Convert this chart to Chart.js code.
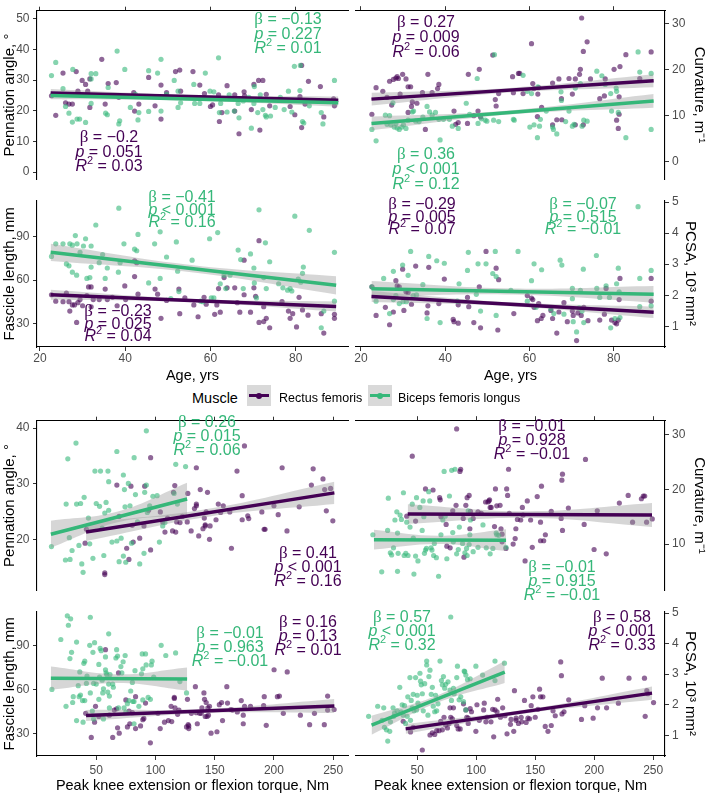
<!DOCTYPE html>
<html>
<head>
<meta charset="utf-8">
<script src="https://cdn.jsdelivr.net/npm/chart.js@4.4.0/dist/chart.umd.min.js"></script>
<style>
  html, body { margin: 0; padding: 0; background: #fff; }
  #page { position: relative; width: 709px; height: 795px; overflow: hidden; font-family: "Liberation Sans", Arial, sans-serif; }
  #page canvas { position: absolute; }
  .lg { position: absolute; white-space: nowrap; line-height: 1; color: #000; }
  .key { position: absolute; width: 24px; height: 21px; background: #d9d9d9; }
  .key .ln { position: absolute; left: 2px; right: 2px; top: 9px; height: 3px; }
  .key .dt { position: absolute; left: 9px; top: 7.5px; width: 6px; height: 6px; border-radius: 50%; }
</style>
</head>
<body>
<div id="page">
  <div class="lg" style="left:192px; top:391px; font-size:14.5px;">Muscle</div>
  <div class="key" style="left:247px; top:385px;"><div class="ln" style="background:#440154"></div><div class="dt" style="background:#440154"></div></div>
  <div class="lg" style="left:279px; top:392px; font-size:12.5px;">Rectus femoris</div>
  <div class="key" style="left:368px; top:385px;"><div class="ln" style="background:#35b779"></div><div class="dt" style="background:#35b779"></div></div>
  <div class="lg" style="left:398px; top:392px; font-size:12.5px;">Biceps femoris longus</div>
</div>
<script>
// ---- tick labels ----
const ageTicks = [20, 40, 60, 80];
const torqueTicks = [50, 100, 150, 200, 250];
const penAgeTicks = [0, 10, 20, 30, 40, 50];
const curvAgeTicks = [0, 10, 20, 30];
const fascTicks = [30, 60, 90];
const pcsaTicks = [1, 2, 3, 4, 5];
const penTorqueTicks = [20, 30, 40];
const curvTorqueTicks = [10, 20, 30];

// ---- age panels: points [age, value] ----
const penAgeRF = [[22.7,24.9],[23.7,18.5],[25.4,32.3],[26,22.6],[26.8,22.2],[27.6,22.2],[28.5,32.8],[28.9,26.4],[29.9,29.9],[30.7,28.6],[31.2,26.4],[31.7,30.4],[31.7,21.1],[34.5,36.8],[35.3,22.2],[36,28.9],[37.9,29.2],[38.5,24.4],[42,25.9],[42.2,19.9],[43.2,22.2],[45.5,30.9],[47,21.6],[48.4,28.4],[48.4,17.3],[49.7,25.9],[51.8,32.8],[52.8,33.3],[53,26.4],[55.9,32.8],[57.5,28.4],[58.6,25.6],[60,21.4],[60.5,21.9],[61.9,25.2],[62.1,16.5],[62.7,19.4],[63.9,28.2],[65.7,25.2],[65.7,19.9],[66.7,12.5],[67.9,26.2],[68,24.9],[69.6,20.4],[70.2,28.6],[71.3,29.9],[71.6,13.7],[72.3,29.9],[73.1,25.4],[73.9,21.6],[78.7,21.4],[79.8,18.7],[81,24.6],[81.4,34.8],[81.4,14.5],[82.2,22.2],[83,29.6],[85.8,27.9],[86.6,18],[88.9,23.9],[89.1,21.6]];
const penAgeBF = [[22.7,31.5],[23.7,35.8],[25.4,27.2],[26,21.4],[26.8,19.2],[27.7,33.5],[27.6,16.3],[28.7,17.3],[29.3,17.3],[30.7,16.2],[32,32.1],[33.1,32.1],[32,22.4],[32,30.4],[35.4,19.2],[35.8,18.7],[36,27.6],[38.1,39.5],[38.5,15.7],[38.7,16.7],[39.9,33.5],[41.2,21.1],[42.4,25.4],[43.2,19.4],[43,17],[45.5,33.1],[45.5,19.8],[47.6,32.3],[48.4,36.8],[48.4,19.9],[49.7,25.4],[51.5,29.9],[52.4,26.4],[52.4,21.1],[53,22.6],[56.1,28.6],[56.3,22.4],[57.5,22.4],[58.8,32.3],[59.9,26.4],[60.8,26.2],[61.9,37.3],[62.1,19.4],[62.4,22.4],[63.9,19.6],[64.4,25.2],[65.6,19.9],[66.5,22.4],[66.7,17.7],[67.7,23.2],[69,24.4],[69.6,14.3],[70.2,22.4],[70.3,27.9],[71.1,19.4],[71.7,25.2],[72.1,23.6],[72.3,20.4],[72.9,18.5],[73.1,18],[74.1,18.3],[75.2,21.1],[76.4,24.4],[77.3,20.4],[78.3,26.4],[79.1,19.6],[79.7,34.5],[80.2,23.4],[81,26.6],[81.1,34.8],[81.6,16.5],[81.9,16],[83.2,21.6],[86,19.4],[86.4,15.7],[89.1,29.9]];
const curvAgeRF = [[22.6,10.3],[23.6,16.1],[25.2,15.3],[26.2,14],[26.8,17.5],[27.3,12.3],[27.7,17.9],[28.3,18.2],[28.6,18.5],[28.9,18.1],[29.9,19],[29.3,14.7],[30.7,18],[31.2,16.3],[31.2,10.7],[31.8,16.3],[32,12],[32.2,13],[33.3,12.7],[34.6,15],[35.3,7],[35.9,19],[36.9,15],[38.2,15.9],[38.5,16.8],[42.1,11],[42.5,8.1],[43.1,8.5],[45.3,8.3],[45.5,19],[46.8,10],[47.8,11],[48.1,20.1],[48.4,9.7],[51.3,23.2],[51.9,13.5],[52.1,12.1],[52.7,14.8],[56,18.5],[56.2,15],[57.4,19.2],[57.7,19.2],[58.5,14.8],[60.5,25.7],[60.8,17],[61.1,15.9],[62.2,16.1],[62,14.7],[62.9,11.8],[61.9,9.8],[65.5,8],[65.5,17.1],[66.5,9.1],[67,18],[67.7,9.1],[67.6,13.7],[69.4,18.1],[70.2,14.7],[70.9,18],[70.9,8],[71.9,19],[72.1,20.1],[72.4,31.3],[72.8,24],[72.8,8],[73.7,26.1],[74.5,18],[76.7,13.7],[77.8,14.3],[78,18],[80.1,20.1],[80.7,9],[81.1,7.2],[81.3,14.1],[81.5,20.7],[81.3,10.3],[82.9,23.3],[86.2,18.1],[88.9,23.9]];
const curvAgeBF = [[22.6,7],[23.6,4.5],[25.8,10.1],[26.2,8.1],[26.8,10],[27.1,8],[27.6,12.8],[27.9,7.5],[28.3,8.3],[28.6,7.3],[29.1,7],[29.7,7.5],[30.1,8],[30.7,7.2],[31.2,9],[32.2,10.8],[32.5,11],[33,8.8],[33.8,8.7],[34.7,9.7],[35.7,12],[36.3,10.8],[36.9,10.1],[37.7,10.7],[38.5,9.2],[38.8,4.7],[39.6,9.2],[41,9.2],[41.7,7.7],[43.1,7.2],[45,12.7],[45.8,10.3],[47.6,18.1],[47.8,8.3],[48.6,9.3],[49.5,9],[49.9,8.8],[51.5,9],[51.7,23.3],[52.7,8.7],[56.2,9.2],[56.4,9],[58.5,18.8],[59.5,15.3],[60.1,7.5],[60.5,14.8],[61.1,8],[61.9,5.2],[62,16.3],[62.4,7.7],[62.6,9.2],[64,11],[65.5,7.5],[65.7,7],[66.5,6],[67.5,15.2],[67.6,13.3],[68.6,8.7],[69.4,11],[70.2,7.7],[70.6,8.1],[70.9,16],[72.1,17],[72.5,7.7],[72.9,9],[73.7,8.8],[76,19.7],[77.2,18.7],[78,16.8],[79.3,14.8],[79.5,11],[80.6,16],[80.7,15.3],[81.1,10.7],[82.9,5.2],[85.8,23.9],[86.2,19.5],[88.9,19.2],[88.9,7]];
const fascAgeRF = [[22.7,49.8],[23.7,45.4],[25.4,45],[26.2,50.9],[26.8,45],[27,38.5],[27.6,42.8],[28.1,42.8],[28.6,30.7],[28.9,44.3],[29.4,46.5],[30,42.2],[31,49.3],[31.4,55.2],[32,55.2],[32,41.5],[32.5,46.5],[33.9,46.5],[35.3,53.7],[35.8,46.5],[37,48],[38.1,42.2],[39.9,55.9],[40.1,46.5],[42.2,73.3],[42.7,72],[42.2,62.4],[43,50.2],[47,53.7],[47.6,50.2],[48.4,33.5],[49.7,45.9],[52.6,53.7],[52.8,36.7],[54,47.6],[56.1,42.8],[57.1,34.6],[58.5,48],[59,43.3],[61,36.3],[61.5,42.8],[61.9,54.1],[62.3,37.8],[63.2,61.7],[63.9,54.6],[65.7,54.6],[66.3,44.3],[66.9,37.8],[67.9,73.7],[67.9,49.8],[69.4,37.8],[70.2,54.6],[70.6,48.7],[71.4,87.2],[71.4,30.7],[72.5,31.3],[73.1,33.5],[72.5,41.5],[73.9,27],[76.8,45],[78.3,38.5],[78.7,33.5],[79.3,36.7],[80.2,27.6],[80.8,48],[81.6,39.3],[82.9,35.7],[86,36.7],[86.6,23.3],[89.1,36.3],[89.1,33.5]];
const fascAgeBF = [[22.7,76.3],[23.7,85],[25.4,85],[26.2,71.1],[26.8,69.8],[27,85],[27.6,84.1],[27.6,65.4],[28.3,90.7],[28.6,63.3],[28.7,85],[29.4,79.1],[30.2,83.5],[30.7,88.5],[31,61.1],[32,83.5],[32,68.9],[31.7,61.7],[33.1,98],[33.9,72],[34.7,77.6],[35.3,61.1],[35.8,68.3],[38.4,65.4],[38.5,109.6],[38.8,72],[39.7,85],[42.2,81.3],[42.7,80.2],[43,91.5],[45.5,58],[46.9,85],[48.2,93.3],[48.2,61.1],[49.7,75.9],[50.7,47.2],[52,86.3],[52.3,66.1],[52.6,52],[55.7,73.7],[57.7,45.4],[58.2,45],[59.8,88.5],[60.2,47.6],[60.8,47.6],[61.7,92.8],[62.3,57.4],[63.2,63.3],[63.6,54.1],[64.6,63.3],[66.5,80.7],[67.1,74.1],[67.7,54.1],[69.4,78],[70.2,68.3],[70.3,58],[70.8,47.6],[71.4,108.5],[72.5,61.7],[72.9,85.7],[73.1,54.1],[73.9,72.6],[76,57.4],[77,54.6],[78.1,53],[78.7,54.1],[79.1,52.4],[79.8,104.1],[80.6,60.7],[81.2,58.5],[81.6,64.6],[81.8,68.9],[83.2,94.3],[86,27],[86.6,38.5],[89.1,79.1],[89.1,45.4]];
const pcsaAgeRF = [[22.6,2.27],[23.6,1.35],[25.8,1.61],[26.8,1.05],[27.7,1.46],[28.3,2.47],[28.6,2.3],[29.1,2.27],[29.9,2.84],[30.2,1.51],[30.7,2.11],[31.2,2.09],[32,1.71],[33,2.94],[36.1,2.9],[35.7,1.43],[35.9,1.66],[38.5,1.73],[39.8,2.52],[41.9,1.22],[42.1,1.15],[43.1,1.1],[43.1,1.69],[45.3,1.93],[45.6,1.63],[46.8,1.12],[48.1,2.27],[48.4,0.95],[49.7,3.41],[52.1,2.87],[52.5,0.88],[52.7,2.5],[56.3,1.41],[59.5,1.99],[60.5,1.91],[60.8,1.86],[61.1,1.61],[61.9,1.18],[62.2,1.73],[62.8,1.25],[63.2,1.35],[65.1,1.51],[65.5,1.25],[66.5,0.78],[67,1.46],[68.2,1.76],[69,1.15],[70.2,1.49],[70.4,1.35],[71.2,0.54],[71.5,1.43],[72.3,1.35],[72.9,1.61],[73.9,1.18],[76.7,1.2],[77.8,1.39],[78.2,2.22],[79.5,1.2],[80.3,1.12],[80.7,1.08],[81.1,1.2],[81.3,1.86],[81.5,2.54],[88.9,2.54],[88.9,1.81]];
const pcsaAgeBF = [[22.6,2.27],[23.6,1.81],[25.4,2.54],[26.8,1.41],[27.7,1.86],[27.7,2.77],[28.3,1.99],[29.1,1.73],[29.9,2.97],[30,1.79],[30.8,1.79],[31.2,2.64],[31.8,3.41],[32.4,1.99],[33.2,2.01],[34.7,2.34],[35.7,1.25],[36.1,3.25],[38,3.11],[38.8,1.12],[39.8,3.03],[42.9,1.81],[43.3,2.37],[45.3,2.8],[45.5,3.38],[47.4,2.03],[47.8,3.01],[48.4,1.49],[49.7,3.01],[51.3,2.7],[51.9,3.41],[52.1,2.6],[52.1,1.35],[55.6,2.16],[57.3,3.41],[59.5,1.81],[60.5,2.47],[61.1,3.01],[61.6,1.61],[62.9,2.82],[65.1,1.56],[65.8,1.41],[67.3,3.13],[67.7,2.97],[68.2,1.39],[70.2,2.22],[70.2,1.89],[70.4,1.15],[71.2,0.82],[71.8,1.59],[72.1,2.16],[72.5,1.49],[72.8,2.84],[72.9,1.12],[75.9,3.28],[76,2.22],[76.7,1.93],[78.2,2.3],[79,1.93],[79.3,0.95],[80.3,1.25],[80.7,2.37],[81.1,2.87],[81.3,2.11],[81.5,1.28],[85.8,4.85],[86.2,2.54],[86.2,1.63],[88.9,2.8],[88.9,1.66]];

// ---- torque panels: points [torque, value] ----
const penTorqueRF = [[40.6,19.4],[41.7,21.9],[57.2,14.1],[57.2,13.8],[67.4,29.8],[69.3,24.2],[75.7,18.5],[77.6,16.5],[79.3,29.6],[80.4,22.6],[81.2,19.6],[86.7,20.3],[90.3,22.5],[90.9,29.6],[94.2,25.3],[95.9,34.7],[95.9,18.2],[104.1,25],[106.1,23.2],[108,21.4],[110.2,23.9],[114.4,21.6],[115.2,28.5],[116.3,29.7],[117.1,21.4],[117.9,23.2],[120.7,23.1],[122.7,24.2],[126.8,23.2],[127.3,28.3],[130.1,21.6],[132.9,25.6],[134.5,32.9],[134.5,26.4],[134.5,26.1],[136.5,20.7],[137.8,29],[140.1,22],[141.2,23.9],[142,22.7],[142,22.5],[142.8,25],[143.9,28.5],[145.6,20.1],[146.1,22.5],[151.1,23.6],[153,26.4],[155,24.9],[157.2,26.1],[162.7,25],[164.1,18.5],[168.8,32.3],[173.2,27.9],[173.2,23.6],[175.1,36.8],[177.9,24.3],[178.7,23.8],[189.8,25],[191.7,21.9],[192.5,21.9],[200,26.1],[203.6,24.5],[206.9,32.9],[211,21.6],[221.3,25.9],[231.6,29.8],[233.1,32.7],[241.4,30.9],[242.8,29],[244.2,25.2],[247.8,29.2],[249.7,23.4]];
const penTorqueBF = [[12.2,18.8],[24,16.4],[24.6,26.4],[26,34.5],[27.3,20.4],[27.9,16.5],[29.6,18.1],[32.9,37.3],[33.4,26.4],[35.4,19],[36.8,26.5],[37.8,15.7],[38.9,14.2],[39.8,27.6],[43.4,23.9],[44.5,19.3],[47.2,16.7],[48.9,32.3],[50,26.5],[52.8,26],[53.6,32.3],[55,22.1],[56.4,17.2],[57.2,24.8],[58.3,26.7],[59.9,32.3],[60.5,30.4],[60.5,25.3],[63.3,19.6],[67.4,35.8],[67.4,19.8],[69.3,16.1],[71,20.3],[72.9,31.6],[72.9,17.1],[73.8,29],[74.3,25.9],[74.9,16],[77.1,30.1],[78.5,26.1],[79.8,19.4],[82,34.7],[83.1,28.1],[84.8,23.2],[86.7,15.7],[90.3,17.6],[90.9,28.5],[92.3,39.5],[92.3,29.8],[93.1,24.9],[95.1,26.1],[97.8,27.8],[101.4,27.9],[103.3,19.6],[106.1,22.5],[108,23.1],[115.7,28.3],[117.1,33.5],[118.5,26.4],[125.4,33.1]];
const curvTorqueRF = [[45.8,26.1],[41.1,15.1],[48.6,14.2],[57,20.1],[63.4,19.9],[69,18.5],[69.5,18.1],[70.1,15],[74.5,13.6],[75.1,9.6],[77.9,9.3],[80.1,16.1],[83.4,31.1],[86.2,23.3],[82.9,17.1],[86.8,23.7],[89,14.7],[89.6,7.6],[91.2,17.1],[92.3,18.5],[94,18.9],[94.6,12.8],[95.1,16],[97.4,14.7],[101.5,15.9],[104.3,15.6],[107.9,17.7],[109.9,17.7],[110.7,17.9],[111.3,18.1],[111.8,16.7],[112.7,16.7],[116.3,20.1],[115.5,13.2],[117.4,17],[120.2,17.1],[121,12.8],[121.9,11.8],[121.9,10.4],[125.2,9.2],[125.8,20.1],[126.6,18.9],[127.4,23.7],[128,15.6],[131.3,10],[133,11],[133.6,12.8],[134.9,14.5],[137.7,14.4],[139.1,16.7],[139.7,15.3],[141.4,6.9],[143.3,17.9],[146.1,14.4],[147.5,9.4],[151.7,18.7],[154.5,14],[154.5,10.6],[155.3,20.6],[157.2,10.6],[158.6,11.7],[163.6,16],[172,14.7],[172.6,21.7],[173.1,22.8],[173.1,12.5],[178.1,16.6],[191.5,13.6],[192.6,25.5],[199.9,9],[202.6,16.1],[210.2,8.2],[221.3,17.5],[228.8,18.9],[232.5,14],[240,18.3],[241.6,18.8],[242.8,18.8],[244.4,14],[249.2,14.6]];
const curvTorqueBF = [[12.4,11.7],[19.9,4.9],[24.9,12.5],[25.5,18.4],[27.2,8.4],[28.3,8],[29.9,9.3],[31.1,14.4],[32.7,15.9],[33.3,5],[33.3,12],[33.8,8.3],[35.5,15.3],[36.6,14.5],[38.3,19.4],[38.9,7.9],[40.3,8.3],[41.1,14],[42.2,7.9],[43.9,13.1],[45.8,17.3],[46.7,11.1],[47.2,4.5],[48.6,7.8],[49.4,18.5],[50.6,6.9],[52.2,16.7],[54.2,12.5],[55,17.9],[55.6,15],[56.1,8.3],[57,8.9],[57.8,9.2],[59.7,19.6],[60.6,17.9],[61.7,9.3],[62.5,8.9],[63.9,7.9],[64.5,10.1],[66.2,7.5],[68.1,4.1],[70.1,11.7],[71.7,14.4],[72.8,23.3],[73.7,15.1],[75.1,7.3],[77.3,18.8],[79.2,23.5],[80.1,12.1],[80.6,10.4],[82,23.7],[83.4,8.2],[84.8,9],[85.7,13.1],[88.4,10.1],[90.4,8.4],[91.8,9.2],[92.3,7.9],[93.2,16.1],[94,9.9],[94.6,11.7],[95.1,14.4],[97.4,8.6],[101.5,9.4],[105.7,13.5],[108.5,9.3],[111.8,8.2],[114.1,9.2],[116.9,12],[117.4,11.7],[119.1,11.6],[125.2,9.4]];
const fascTorqueRF = [[41.1,43.7],[45.8,27.1],[48.6,37.6],[49.4,48.5],[52.2,41.5],[57.8,87.4],[61.1,42.4],[63.9,27.1],[65.2,45.9],[67.2,46.8],[68,33.7],[68.8,71.4],[69.4,30],[75,52.9],[76.3,34.3],[77.7,45.2],[78.3,36.5],[80.5,44.1],[83.2,33.2],[83.2,55.1],[87.4,35],[89.3,39.3],[90.2,40.2],[91.6,50.7],[95.7,23.4],[102.1,43.7],[104,33.2],[107.6,37.6],[110.9,38.7],[113.2,48.5],[113.7,38],[115.9,54.6],[115.9,53.9],[116.5,47.4],[118.7,43],[119.8,45.9],[126.2,34.3],[127,53.3],[127.6,35.9],[128.1,33.2],[128.1,35],[130.3,43.7],[133.7,62],[134.5,44.1],[135.3,36.5],[137.3,43.7],[138.6,43.7],[139.2,47.4],[140.9,57.7],[141.4,53.3],[142,41.5],[142.8,51.1],[143.6,41.5],[144.2,47.4],[144.7,42.4],[145.6,48.5],[146.9,30],[151.9,31],[153.9,49.6],[155.8,51.1],[156.6,38.7],[160.2,62],[160.8,50.7],[163.6,46.3],[165,45.9],[169.1,44.6],[172.4,52.4],[174.1,42.4],[174.1,36.5],[175.2,48.5],[180.2,48.5],[191.3,48.9],[191.8,55.1],[193.5,35.4],[200.1,73.6],[202.9,55.1],[204.6,55.5],[207.9,43.7],[211.2,72.1],[222.3,42.4],[230.1,35.9],[234.2,43.7],[242.5,35.9],[245.3,55.5],[245.3,45.9],[250.8,46.3]];
const fascTorqueBF = [[12.6,60.1],[20.1,94.4],[24.5,48.5],[25.6,110.7],[26.5,104.2],[27.8,81.3],[28.4,108.6],[29.2,85.6],[30.6,55.1],[30.1,51.1],[33.4,92.6],[33.4,38.7],[34.8,62.7],[35.6,55.1],[36.1,72.1],[36.7,56.2],[38.4,52.4],[38.9,37.6],[39.5,78],[40.3,79.5],[40.3,52.4],[41.7,64.2],[42.2,69.3],[44.5,90.4],[45,109.7],[45,57.7],[46.7,45.2],[47.2,85.6],[47.8,64.2],[47.8,39.8],[48.6,92.2],[50,63.8],[52.2,77.3],[52.2,53.3],[52.8,68.6],[53.3,88.3],[54.2,86.7],[55,66.4],[55.5,57.7],[56.1,60.5],[56.1,39.8],[57.8,82.4],[57.8,73.6],[58.3,71.4],[58.9,70.3],[59.7,58.3],[60.5,98.3],[60.5,63.8],[61.1,55.5],[61.1,47.4],[61.6,70.3],[63.9,63.8],[64.4,61.6],[66.6,81.7],[67.2,87.4],[68,83],[68.8,47.4],[70.8,75.8],[71.6,71.4],[72.7,79.1],[73.5,47.4],[74.4,83.4],[75,44.6],[76.3,50.3],[77.7,52.4],[79.1,59],[80.5,64.9],[81,51.8],[81.9,51.8],[81.9,36.5],[82.7,73],[86,48.5],[88.2,70.8],[88.8,84.5],[89.3,74.3],[89.3,52.9],[91.6,84.5],[92.1,76.9],[93.8,54.6],[95.7,53.3],[96.5,76.9],[97.1,79.5],[98.5,68.6],[104.8,90.4],[108.7,83.4],[117,85.2],[120.6,65.5],[126.2,57.7]];
const pcsaTorqueRF = [[38.1,1.46],[44.3,1.11],[46.6,1.26],[54.3,0.52],[60.8,1.01],[62.8,1.08],[64.8,1.03],[66.5,1.15],[68.5,1.15],[69.9,1.46],[71.3,1.18],[72.7,1.59],[74.1,1.34],[75.6,1.24],[77,1.39],[77.8,1.9],[78.4,1.59],[79.8,1.54],[80.7,1.9],[83.5,1.32],[84.7,1.21],[86.4,1.21],[89.2,2.03],[91.2,1.83],[92,1.59],[93.2,1.56],[93.2,1.39],[94.9,1.87],[96,1.77],[99.7,1.13],[100.6,2],[102.6,1.49],[106.3,1.83],[106.8,2.05],[108.2,1.44],[109.1,1.59],[112.5,1.44],[113.9,1.85],[114.8,0.95],[115.9,1.83],[117.6,1.77],[118.2,2.18],[120.5,1.59],[122.4,1.9],[124.4,1.64],[126.1,1.05],[129,1.36],[129.5,1.52],[131.8,1.13],[132.4,2.46],[133.8,1.49],[133.8,1.56],[135.8,1.39],[138.1,1.59],[138.6,1.44],[140.9,2.14],[142.3,1.42],[143.8,1.56],[145.2,1.54],[146.6,1.97],[148,2.26],[150,1.59],[152.3,1.85],[153.7,2.51],[154.5,2.26],[156.5,2.26],[158.5,1.29],[160.8,1.13],[163.6,1.32],[165.1,1.8],[167,1.64],[171.6,3.4],[172.2,2.95],[172.7,1.7],[174.4,1.77],[178.4,2.16],[189.2,1.52],[192,1.97],[199.1,1.56],[202.8,1.9],[206.8,2.87],[210.5,1.9],[220.5,2.05],[229.5,2.87],[242.6,2.87],[243.2,1.62],[244.6,2.46],[245.5,2.36],[250.3,2.07]];
const pcsaTorqueBF = [[8.8,1.62],[16.5,1.95],[20.2,1.49],[21.6,1.9],[22.2,1.26],[23.9,1.18],[25,0.81],[26.7,1.13],[27.3,1.44],[29.5,1.9],[30.1,1.62],[30.7,1.73],[32.9,1.8],[35.2,2.57],[36.4,1.77],[37.2,2],[38.1,1.66],[39.2,1.97],[40.1,1.39],[41.5,1.62],[42,2.26],[43.8,2.89],[44.3,1.49],[44.9,2.14],[45.7,1.9],[46.6,2.34],[47.2,1.8],[48.6,2.89],[49.4,1.83],[50,2.31],[50.6,2.05],[52.3,3.03],[52.8,2.77],[53.4,2.65],[54.3,2.36],[55.1,1.8],[56.3,2.69],[58,3.43],[58,3.3],[59.1,1.66],[59.9,2.92],[60.8,3.13],[61.9,2.34],[62.8,2.57],[63.6,1.95],[64.8,1.77],[65.6,2.31],[66.5,1.8],[67.6,2.03],[69.3,3.43],[70.5,2.79],[71.3,2.65],[72.2,2.92],[73.3,2.54],[74.1,2.67],[76.1,2.75],[77.8,2.48],[78.4,4.87],[79,2.14],[80.7,2.54],[81.3,2.36],[83.5,2.89],[84.1,3.26],[85.5,2.16],[86.9,2.26],[89.2,2.1],[89.8,3.1],[90.3,3.08],[91.2,2.97],[91.2,1.83],[92.6,2.82],[94.9,2.85],[99.7,3.26],[105.4,2.97],[115.9,3.43],[115.9,2.79],[123.9,3.36]];

// ---- fitted lines [x, y] and confidence bands [x, lower, upper] ----
const penAgeFitRF = [[22.5,25.8],[90,23.4]];
const penAgeFitBF = [[22.5,25.0],[90,22.6]];
const penAgeBandRF = [[22.5,24.5,27.1],[56,24.1,25.1],[90,22.1,24.7]];
const penAgeBandBF = [[22.5,23.8,26.2],[56,23.3,24.3],[90,21.4,23.8]];
const curvAgeFitRF = [[22.5,13.6],[89.5,17.6]];
const curvAgeFitBF = [[22.5,8.3],[89.5,13.2]];
const curvAgeBandRF = [[22.5,12.2,15.0],[56,15.1,16.1],[89.5,16.2,19.0]];
const curvAgeBandBF = [[22.5,6.8,9.8],[56,10.3,11.2],[89.5,11.7,14.7]];
const fascAgeFitRF = [[22.5,49.8],[89.5,41.7]];
const fascAgeFitBF = [[22.5,79.1],[89.5,56.3]];
const fascAgeBandRF = [[22.5,46.3,53.3],[56,44.6,46.9],[89.5,38.2,45.2]];
const fascAgeBandBF = [[22.5,73.1,85.1],[56,65.2,70.2],[89.5,50.0,62.6]];
const pcsaAgeFitRF = [[22.5,1.96],[89.5,1.45]];
const pcsaAgeFitBF = [[22.5,2.21],[89.5,2.03]];
const pcsaAgeBandRF = [[22.5,1.78,2.14],[56,1.64,1.77],[89.5,1.27,1.63]];
const pcsaAgeBandBF = [[22.5,1.95,2.46],[56,2.02,2.22],[89.5,1.76,2.30]];

const penTorqueFitRF = [[41.4,21.4],[251,28.4]];
const penTorqueFitBF = [[11.7,21.0],[126.7,27.3]];
const penTorqueBandRF = [[41.4,19.8,23.0],[146,24.2,25.6],[251,26.4,30.4]];
const penTorqueBandBF = [[11.7,18.6,23.4],[69,23.2,25.1],[126.7,24.4,30.2]];
const curvTorqueFitRF = [[41.9,15.5],[249,15.3]];
const curvTorqueFitBF = [[13.3,10.8],[125.3,10.7]];
const curvTorqueBandRF = [[41.9,13.7,17.3],[145,14.8,16.0],[249,13.1,17.5]];
const curvTorqueBandBF = [[13.3,9.0,12.6],[69,10.0,11.5],[125.3,8.7,12.7]];
const fascTorqueFitRF = [[41.4,42.2],[251,48.7]];
const fascTorqueFitBF = [[11.7,67.8],[126.7,67.2]];
const fascTorqueBandRF = [[41.4,38.4,46.0],[146,43.9,46.9],[251,43.9,53.5]];
const fascTorqueBandBF = [[11.7,59.8,75.8],[69,64.5,70.5],[126.7,59.2,75.2]];
const pcsaTorqueFitRF = [[40.2,1.21],[249,2.38]];
const pcsaTorqueFitBF = [[11.3,1.33],[124.2,3.07]];
const pcsaTorqueBandRF = [[40.2,1.05,1.37],[145,1.73,1.86],[249,2.16,2.60]];
const pcsaTorqueBandBF = [[11.3,1.02,1.64],[68,2.08,2.32],[124.2,2.71,3.43]];

// ---- statistics: [beta, p operator, p, R2] ----
const penAgeStatRF = ['\u22120.2', '=', '0.051', '0.03'];
const penAgeStatBF = ['\u22120.13', '=', '0.227', '0.01'];
const curvAgeStatRF = ['0.27', '=', '0.009', '0.06'];
const curvAgeStatBF = ['0.36', '<', '0.001', '0.12'];
const fascAgeStatRF = ['\u22120.23', '=', '0.025', '0.04'];
const fascAgeStatBF = ['\u22120.41', '<', '0.001', '0.16'];
const pcsaAgeStatRF = ['\u22120.29', '=', '0.005', '0.07'];
const pcsaAgeStatBF = ['\u22120.07', '=', '0.515', '\u22120.01'];
const penTorqueStatRF = ['0.41', '<', '0.001', '0.16'];
const penTorqueStatBF = ['0.26', '=', '0.015', '0.06'];
const curvTorqueStatRF = ['\u22120.01', '=', '0.928', '\u22120.01'];
const curvTorqueStatBF = ['\u22120.01', '=', '0.915', '\u22120.01'];
const fascTorqueStatRF = ['0.16', '=', '0.13', '0.01'];
const fascTorqueStatBF = ['\u22120.01', '=', '0.963', '\u22120.01'];
const pcsaTorqueStatRF = ['0.58', '<', '0.001', '0.33'];
const pcsaTorqueStatBF = ['0.57', '<', '0.001', '0.32'];

// ---- styling ----
const FONT = '"Liberation Sans", Arial, sans-serif';
const RF_COL = '#440154', BF_COL = '#35b779';
const RF_PT = 'rgba(68,1,84,0.6)', BF_PT = 'rgba(53,183,121,0.6)';
const BAND = 'rgba(153,153,153,0.4)';
const page = document.getElementById('page');

function toXY(arr) { return arr.map(p => ({x: p[0], y: p[1]})); }

function fitSet(pts, col) {
    return {data: toXY(pts), showLine: true, borderColor: col, borderWidth: 3.5, pointRadius: 0, tension: 0, fill: false};
}
function bandSets(band) {
    return [
        {data: band.map(b => ({x: b[0], y: b[2]})), showLine: true, borderColor: 'rgba(0,0,0,0)', borderWidth: 0.01, pointRadius: 0, tension: 0.4, fill: '+1', backgroundColor: BAND},
        {data: band.map(b => ({x: b[0], y: b[1]})), showLine: true, borderColor: 'rgba(0,0,0,0)', borderWidth: 0.01, pointRadius: 0, tension: 0.4, fill: false}
    ];
}
function ptSet(pts, col) {
    return {data: toXY(pts), showLine: false, pointRadius: 2.6, pointBackgroundColor: col, backgroundColor: col, pointBorderWidth: 0, borderWidth: 0};
}

function drawStat(ctx, cx, cy, gap, color, s) {
    const sans = '16px ' + FONT;
    const rows = [
        [['\u03b2', '17px "Liberation Serif", serif', 0], [' = ' + s[0], sans, 0]],
        [['p', 'italic ' + sans, 0], [' ' + s[1] + ' ' + s[2], sans, 0]],
        [['R', 'italic ' + sans, 0], ['2', '11px ' + FONT, -6], [' = ' + s[3], sans, 0]]
    ];
    ctx.save();
    ctx.fillStyle = color;
    ctx.textBaseline = 'middle';
    ctx.textAlign = 'left';
    rows.forEach((row, i) => {
        let w = 0;
        row.forEach(seg => { ctx.font = seg[1]; w += ctx.measureText(seg[0]).width; });
        let x = cx - w / 2;
        row.forEach(seg => {
            ctx.font = seg[1];
            ctx.fillText(seg[0], x, cy + i * gap + seg[2]);
            x += ctx.measureText(seg[0]).width;
        });
    });
    ctx.restore();
}

function xAxis(o) {
    return {
        type: 'linear', position: o.pos, min: o.min, max: o.max,
        afterBuildTicks: s => { s.ticks = o.ticks.map(v => ({value: v})); },
        afterFit: s => { s.height = o.size; },
        grid: {display: true, drawOnChartArea: false, drawTicks: true, tickLength: 4, tickColor: '#333', color: '#333'},
        border: {display: true, color: '#000', width: 1.1},
        ticks: {display: o.pos === 'bottom', color: '#4d4d4d', font: {family: FONT, size: 12}, padding: o.pad || 0, maxRotation: 0, autoSkip: false},
        title: {display: !!o.title, text: o.title, color: '#000', font: {family: FONT, size: 14.5}, padding: {top: 0, bottom: o.titlePad || 0}}
    };
}
function yAxis(o) {
    return {
        type: 'linear', position: o.pos, min: o.min, max: o.max,
        afterBuildTicks: s => { s.ticks = o.ticks.map(v => ({value: v})); },
        afterFit: s => { s.width = o.size; },
        grid: {display: true, drawOnChartArea: false, drawTicks: true, tickLength: 4, tickColor: '#333', color: '#333'},
        border: {display: true, color: '#000', width: 1.1},
        ticks: {color: '#4d4d4d', font: {family: FONT, size: 12}, padding: o.pad, autoSkip: false},
        title: {display: true, text: o.title, color: '#000', font: {family: FONT, size: 15}, padding: {top: o.titlePad, bottom: 0}}
    };
}

function panel(p) {
    const cv = document.createElement('canvas');
    cv.width = p.w; cv.height = p.h;
    cv.style.left = p.left + 'px'; cv.style.top = p.top + 'px';
    cv.style.width = p.w + 'px'; cv.style.height = p.h + 'px';
    page.insertBefore(cv, page.firstChild);
    const datasets = [
        fitSet(p.fitBF, BF_COL), fitSet(p.fitRF, RF_COL),
        ...bandSets(p.bandBF), ...bandSets(p.bandRF),
        ptSet(p.ptsBF, BF_PT), ptSet(p.ptsRF, RF_PT)
    ];
    new Chart(cv.getContext('2d'), {
        type: 'scatter',
        data: {datasets: datasets},
        options: {
            responsive: false, animation: false, devicePixelRatio: 1, events: [],
            layout: {padding: {top: p.padTop || 0, bottom: 0, left: 0, right: 0}},
            plugins: {legend: {display: false}, tooltip: {enabled: false}},
            scales: {x: p.x, y: p.y}
        },
        plugins: [{
            id: 'stat',
            afterDatasetsDraw(chart) {
                p.stats.forEach(a => drawStat(chart.ctx, a[0] - p.left, a[1] - p.top, p.gap, a[2], a[3]));
            }
        }]
    });
}

// ---- age vs. architecture ----
panel({left: 0, top: 0, w: 352, h: 190, gap: 14.5,
    x: xAxis({pos: 'top', min: 19.3, max: 92.28, ticks: ageTicks, size: 5}),
    y: yAxis({pos: 'left', min: -2.38, max: 52.68, ticks: penAgeTicks, size: 37, pad: 3.5, title: 'Pennation angle, \u00b0', titlePad: 1}),
    ptsRF: penAgeRF, ptsBF: penAgeBF, fitRF: penAgeFitRF, fitBF: penAgeFitBF, bandRF: penAgeBandRF, bandBF: penAgeBandBF,
    stats: [[288, 20, BF_COL, penAgeStatBF], [109, 138, RF_COL, penAgeStatRF]]});
panel({left: 352, top: 0, w: 357, h: 190, gap: 15,
    x: xAxis({pos: 'top', min: 18.83, max: 92.19, ticks: ageTicks, size: 5}),
    y: yAxis({pos: 'right', min: -4, max: 33, ticks: curvAgeTicks, size: 44, pad: 3, title: 'Curvature, m\u207b\u00b9', titlePad: 1}),
    ptsRF: curvAgeRF, ptsBF: curvAgeBF, fitRF: curvAgeFitRF, fitBF: curvAgeFitBF, bandRF: curvAgeBandRF, bandBF: curvAgeBandBF,
    stats: [[426, 23, RF_COL, curvAgeStatRF], [426, 155, BF_COL, curvAgeStatBF]]});
panel({left: 0, top: 190, w: 352, h: 200, padTop: 2, gap: 12.5,
    x: xAxis({pos: 'bottom', min: 19.3, max: 92.28, ticks: ageTicks, size: 43, pad: 0, title: 'Age, yrs', titlePad: 5}),
    y: yAxis({pos: 'left', min: 13.7, max: 114.8, ticks: fascTicks, size: 37, pad: 3.5, title: 'Fascicle length, mm', titlePad: 1}),
    ptsRF: fascAgeRF, ptsBF: fascAgeBF, fitRF: fascAgeFitRF, fitBF: fascAgeFitBF, bandRF: fascAgeBandRF, bandBF: fascAgeBandBF,
    stats: [[182, 198, BF_COL, fascAgeStatBF], [118, 312, RF_COL, fascAgeStatRF]]});
panel({left: 352, top: 190, w: 357, h: 200, padTop: 1, gap: 12.5,
    x: xAxis({pos: 'bottom', min: 18.83, max: 92.19, ticks: ageTicks, size: 43, pad: 0, title: 'Age, yrs', titlePad: 5}),
    y: yAxis({pos: 'right', min: 0.333, max: 5.06, ticks: pcsaTicks, size: 44, pad: 3, title: 'PCSA, 10\u00b3 mm\u00b2', titlePad: 10}),
    ptsRF: pcsaAgeRF, ptsBF: pcsaAgeBF, fitRF: pcsaAgeFitRF, fitBF: pcsaAgeFitBF, bandRF: pcsaAgeBandRF, bandBF: pcsaAgeBandBF,
    stats: [[422, 205, RF_COL, pcsaAgeStatRF], [583, 205, BF_COL, pcsaAgeStatBF]]});

// ---- torque vs. architecture ----
panel({left: 0, top: 410, w: 352, h: 191, gap: 14,
    x: xAxis({pos: 'top', min: 0, max: 262.5, ticks: torqueTicks, size: 6}),
    y: yAxis({pos: 'left', min: 10.98, max: 41.31, ticks: penTorqueTicks, size: 37, pad: 3.5, title: 'Pennation angle, \u00b0', titlePad: 1}),
    ptsRF: penTorqueRF, ptsBF: penTorqueBF, fitRF: penTorqueFitRF, fitBF: penTorqueFitBF, bandRF: penTorqueBandRF, bandBF: penTorqueBandBF,
    stats: [[207, 423, BF_COL, penTorqueStatBF], [308, 554, RF_COL, penTorqueStatRF]]});
panel({left: 352, top: 410, w: 357, h: 191, gap: 14,
    x: xAxis({pos: 'top', min: -1.9, max: 260, ticks: torqueTicks, size: 5}),
    y: yAxis({pos: 'right', min: 1.43, max: 32.69, ticks: curvTorqueTicks, size: 44, pad: 3, title: 'Curvature, m\u207b\u00b9', titlePad: 1}),
    ptsRF: curvTorqueRF, ptsBF: curvTorqueBF, fitRF: curvTorqueFitRF, fitBF: curvTorqueFitBF, bandRF: curvTorqueBandRF, bandBF: curvTorqueBandBF,
    stats: [[532, 427, RF_COL, curvTorqueStatRF], [562, 568, BF_COL, curvTorqueStatBF]]});
panel({left: 0, top: 601, w: 352, h: 194, padTop: 3, gap: 14,
    x: xAxis({pos: 'bottom', min: 0, max: 262.5, ticks: torqueTicks, size: 39, pad: 3, title: 'Peak knee extension or flexion torque, Nm', titlePad: 0}),
    y: yAxis({pos: 'left', min: 14.35, max: 113.5, ticks: fascTicks, size: 37, pad: 3.5, title: 'Fascicle length, mm', titlePad: 1}),
    ptsRF: fascTorqueRF, ptsBF: fascTorqueBF, fitRF: fascTorqueFitRF, fitBF: fascTorqueFitBF, bandRF: fascTorqueBandRF, bandBF: fascTorqueBandBF,
    stats: [[230, 634, BF_COL, fascTorqueStatBF], [308, 623, RF_COL, fascTorqueStatRF]]});
panel({left: 352, top: 601, w: 357, h: 194, padTop: 1, gap: 14,
    x: xAxis({pos: 'bottom', min: -1.9, max: 260, ticks: torqueTicks, size: 39, pad: 3, title: 'Peak knee extension or flexion torque, Nm', titlePad: 0}),
    y: yAxis({pos: 'right', min: 0.323, max: 5.06, ticks: pcsaTicks, size: 44, pad: 3, title: 'PCSA, 10\u00b3 mm\u00b2', titlePad: 10}),
    ptsRF: pcsaTorqueRF, ptsBF: pcsaTorqueBF, fitRF: pcsaTorqueFitRF, fitBF: pcsaTorqueFitBF, bandRF: pcsaTorqueBandRF, bandBF: pcsaTorqueBandBF,
    stats: [[402, 618, BF_COL, pcsaTorqueStatBF], [622, 618, RF_COL, pcsaTorqueStatRF]]});
</script>
</body>
</html>
